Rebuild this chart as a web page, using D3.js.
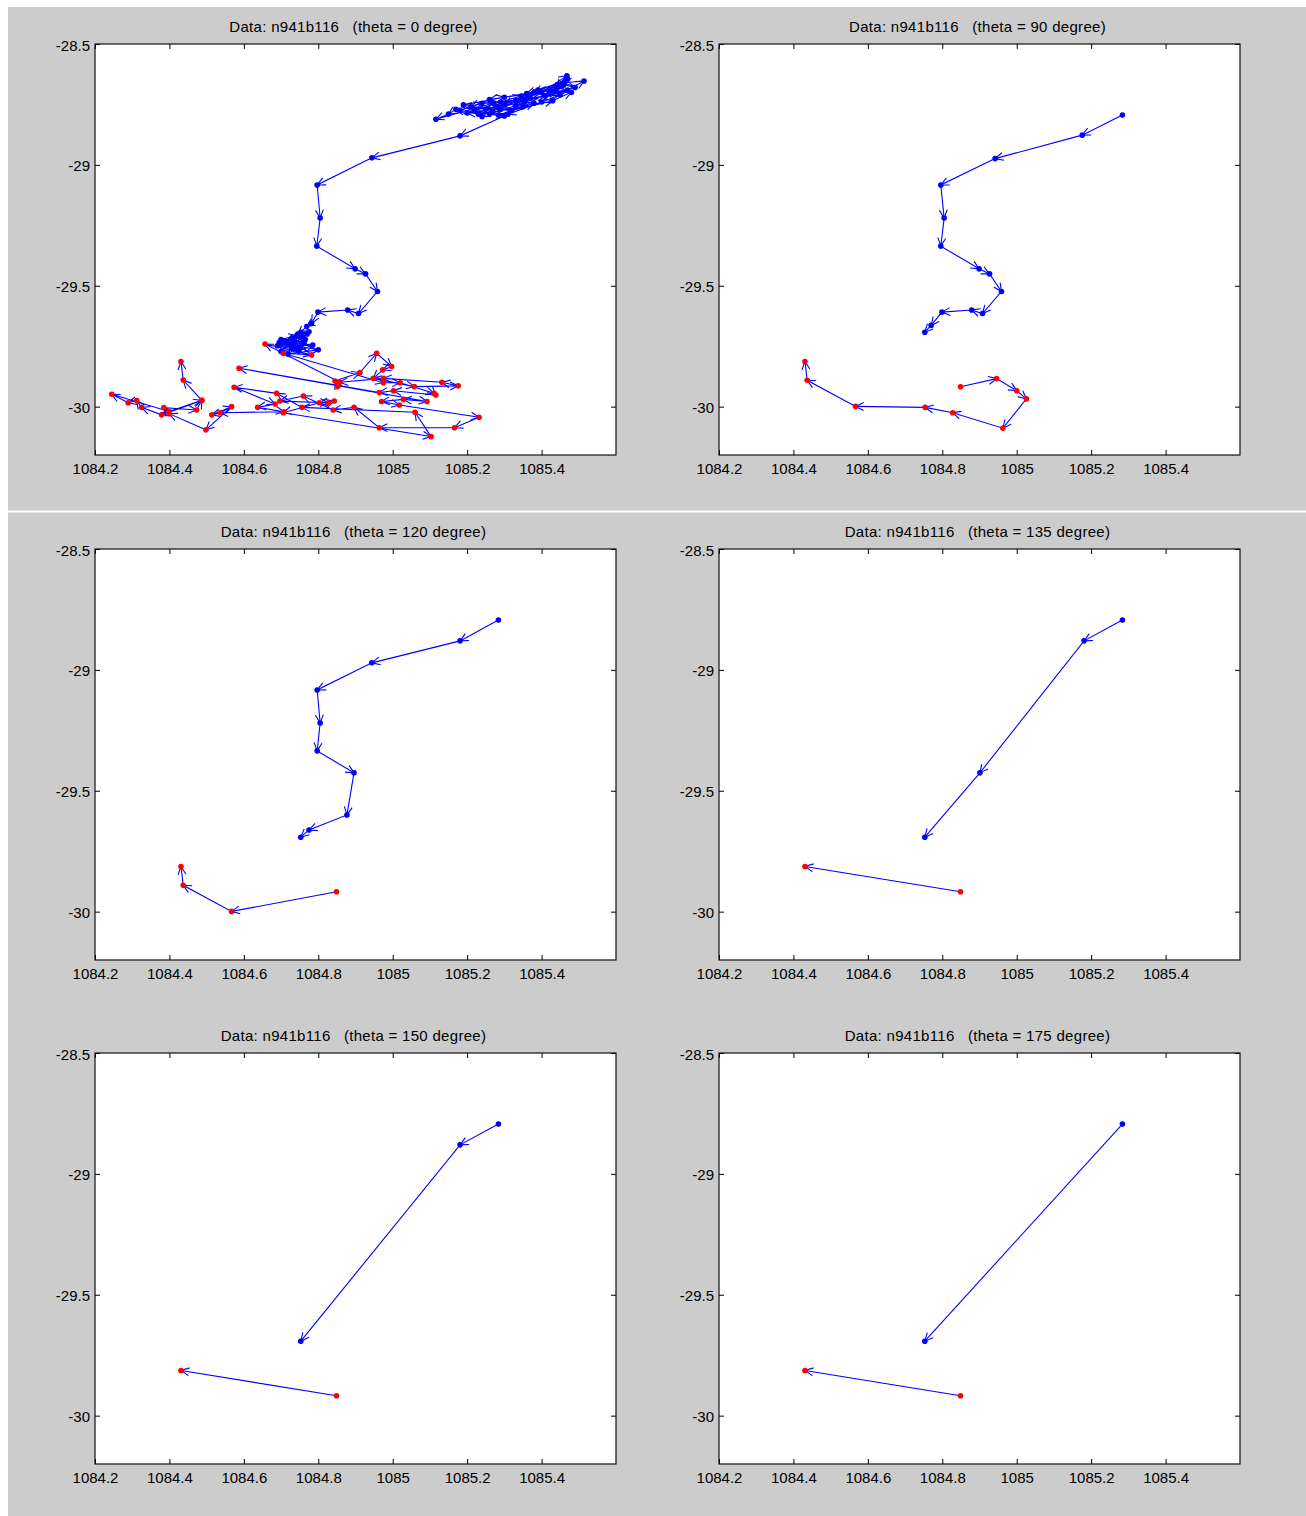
<!DOCTYPE html>
<html><head><meta charset="utf-8">
<script src="https://cdn.jsdelivr.net/npm/d3@7"></script>
<style>
body{margin:0;background:#fff;}
svg text{font-family:"Liberation Sans",Arial,Helvetica,sans-serif;fill:#000;}
</style>
</head><body>
<svg id="chart" width="1306" height="1516"></svg>
<script>
// ---------------- data ----------------
const datasetName = "n941b116";
const thetas = [0, 90, 120, 135, 150, 175];
const xTicks = [1084.2, 1084.4, 1084.6, 1084.8, 1085, 1085.2, 1085.4];
const yTicks = [-28.5, -29, -29.5, -30];
const xDomain = [1084.2, 1085.6];
const yDomain = [-30.2, -28.5];

// theta = 0 : full tracks
const blueTheta0 = [
 [1085.284,-28.794],[1085.380,-28.745],[1085.330,-28.735],[1085.455,-28.675],[1085.420,-28.690],
 [1085.250,-28.770],[1085.190,-28.752],[1085.300,-28.720],[1085.400,-28.700],[1085.468,-28.632],
 [1085.440,-28.680],[1085.350,-28.760],[1085.230,-28.790],[1085.170,-28.770],[1085.150,-28.790],
 [1085.116,-28.811],[1085.270,-28.745],[1085.410,-28.715],[1085.470,-28.690],[1085.514,-28.653],
 [1085.460,-28.660],[1085.360,-28.705],[1085.260,-28.730],[1085.210,-28.760],[1085.320,-28.775],
 [1085.430,-28.735],[1085.480,-28.700],[1085.390,-28.690],[1085.300,-28.750],[1085.240,-28.800],
 [1085.280,-28.760],[1085.370,-28.725],[1085.450,-28.710],[1085.400,-28.740],[1085.310,-28.790],
 [1085.200,-28.785],[1085.290,-28.740],[1085.345,-28.715],[1085.460,-28.668],[1085.490,-28.680],
 [1085.420,-28.705],[1085.330,-28.755],[1085.260,-28.790],[1085.180,-28.775],[1085.240,-28.745],
 [1085.355,-28.740],[1085.440,-28.695],[1085.470,-28.645],[1085.380,-28.700],[1085.290,-28.770],
 [1085.220,-28.775],[1085.300,-28.798],[1085.181,-28.880],
 [1084.944,-28.971],[1084.797,-29.083],[1084.805,-29.220],[1084.796,-29.336],[1084.899,-29.430],
 [1084.927,-29.451],[1084.959,-29.524],[1084.908,-29.615],[1084.879,-29.600],[1084.799,-29.609],
 [1084.782,-29.655],[1084.769,-29.669],[1084.745,-29.700],[1084.765,-29.722],[1084.722,-29.742],
 [1084.700,-29.722],[1084.742,-29.706],[1084.775,-29.690],[1084.735,-29.762],[1084.690,-29.748],
 [1084.762,-29.738],[1084.718,-29.782],[1084.800,-29.765],[1084.752,-29.752],[1084.700,-29.772],
 [1084.730,-29.715],[1084.770,-29.700],[1084.712,-29.730],[1084.748,-29.770],[1084.785,-29.745],
 [1084.728,-29.752],[1084.695,-29.735],[1084.758,-29.712],[1084.736,-29.735],[1084.753,-29.692]
];
const redTheta0 = [
 [1084.852,-29.917],[1084.845,-29.894],[1084.912,-29.859],[1084.957,-29.779],[1084.997,-29.834],
 [1084.973,-29.848],[1084.948,-29.883],[1085.058,-29.917],[1085.176,-29.914],[1085.132,-29.899],
 [1084.975,-29.883],[1084.858,-29.899],[1084.657,-29.741],[1084.782,-29.786],[1084.706,-29.779],
 [1084.975,-29.901],[1085.020,-29.901],[1085.111,-29.945],[1085.116,-29.952],[1085.002,-29.934],
 [1084.964,-29.942],[1084.587,-29.841],[1085.092,-29.979],[1085.029,-29.970],[1084.970,-29.979],
 [1085.018,-29.993],[1085.232,-30.044],[1085.166,-30.087],[1084.964,-30.087],[1084.896,-30.003],
 [1084.840,-30.014],[1084.760,-29.956],[1084.697,-29.977],[1084.827,-29.984],[1084.843,-29.977],
 [1084.803,-29.984],[1084.706,-30.025],[1085.103,-30.124],[1085.060,-30.023],[1084.756,-30.003],
 [1084.688,-29.945],[1084.574,-29.920],[1084.684,-29.989],[1084.637,-30.003],[1084.708,-30.021],
 [1084.536,-30.025],[1084.514,-30.034],[1084.567,-30.000],[1084.498,-30.096],[1084.399,-30.029],
 [1084.385,-30.004],[1084.473,-30.014],[1084.487,-29.974],[1084.379,-30.034],[1084.325,-30.003],
 [1084.312,-29.975],[1084.289,-29.984],[1084.245,-29.949],[1084.399,-30.020],[1084.487,-29.974],
 [1084.437,-29.890],[1084.431,-29.813]
];
// theta = 90
const blueTheta90 = [
 [1085.284,-28.794],[1085.176,-28.877],[1084.942,-28.974],[1084.796,-29.083],[1084.805,-29.220],
 [1084.796,-29.336],[1084.899,-29.430],[1084.927,-29.451],[1084.959,-29.524],[1084.908,-29.615],
 [1084.879,-29.600],[1084.799,-29.609],[1084.770,-29.664],[1084.753,-29.692]
];
const redTheta90 = [
 [1084.849,-29.918],[1084.946,-29.884],[1085.000,-29.934],[1085.026,-29.968],[1084.963,-30.089],
 [1084.828,-30.025],[1084.754,-30.003],[1084.567,-29.999],[1084.437,-29.891],[1084.431,-29.813]
];
// theta = 120
const blueTheta120 = [
 [1085.284,-28.794],[1085.181,-28.880],[1084.944,-28.971],[1084.797,-29.083],[1084.805,-29.220],
 [1084.797,-29.335],[1084.896,-29.426],[1084.877,-29.600],[1084.775,-29.662],[1084.753,-29.692]
];
const redTheta120 = [[1084.849,-29.918],[1084.567,-29.999],[1084.437,-29.891],[1084.431,-29.813]];
// theta = 135
const blueTheta135 = [[1085.284,-28.794],[1085.181,-28.880],[1084.901,-29.426],[1084.753,-29.692]];
const redTheta135 = [[1084.849,-29.918],[1084.431,-29.813]];
// theta = 150
const blueTheta150 = [[1085.284,-28.794],[1085.181,-28.880],[1084.753,-29.692]];
const redTheta150 = [[1084.849,-29.918],[1084.431,-29.813]];
// theta = 175
const blueTheta175 = [[1085.284,-28.794],[1084.753,-29.692]];
const redTheta175 = [[1084.849,-29.918],[1084.431,-29.813]];

const blueTracks = [blueTheta0, blueTheta90, blueTheta120, blueTheta135, blueTheta150, blueTheta175];
const redTracks  = [redTheta0, redTheta90, redTheta120, redTheta135, redTheta150, redTheta175];

// ---------------- layout ----------------
const colLeft = [95, 719];
const rowTop = [44, 549, 1053];
const plotW = 521, plotH = 411;

const svg = d3.select("#chart");
svg.append("rect").attr("x",0).attr("y",0).attr("width",1306).attr("height",1516).attr("fill","#cccccc");
svg.append("rect").attr("x",0).attr("y",0).attr("width",1306).attr("height",7).attr("fill","#ffffff");
svg.append("rect").attr("x",0).attr("y",0).attr("width",8).attr("height",1516).attr("fill","#ffffff");
svg.append("rect").attr("x",0).attr("y",510.5).attr("width",1306).attr("height",2).attr("fill","#ffffff");

const lineColor = "#0000ff";

function arrowHead(p0, p1) {
  const a = Math.atan2(p1[1]-p0[1], p1[0]-p0[0]);
  const L = 9, w = 0.45;
  const b1 = [p1[0] - L*Math.cos(a - w), p1[1] - L*Math.sin(a - w)];
  const b2 = [p1[0] - L*Math.cos(a + w), p1[1] - L*Math.sin(a + w)];
  return `M${b1[0]},${b1[1]}L${p1[0]},${p1[1]}L${b2[0]},${b2[1]}`;
}

thetas.forEach((theta, i) => {
  const left = colLeft[i % 2], top = rowTop[Math.floor(i / 2)];
  const x = d3.scaleLinear().domain(xDomain).range([0, plotW]);
  const y = d3.scaleLinear().domain(yDomain).range([plotH, 0]);
  const g = svg.append("g").attr("transform", `translate(${left},${top})`);

  g.append("rect").attr("width", plotW).attr("height", plotH).attr("fill", "#ffffff");

  g.append("text")
    .attr("x", plotW/2 - 2).attr("y", -12)
    .attr("text-anchor", "middle")
    .style("font-size", "15px").style("white-space", "pre").style("letter-spacing", "0.3px")
    .text(`Data: ${datasetName}   (theta = ${theta} degree)`);

  const fmt = v => String(v);
  const axB = g.append("g").attr("transform", `translate(0,${plotH})`)
    .call(d3.axisBottom(x).tickValues(xTicks).tickFormat(fmt).tickSize(-5).tickSizeOuter(0).tickPadding(8));
  const axL = g.append("g")
    .call(d3.axisLeft(y).tickValues(yTicks).tickFormat(fmt).tickSize(-5).tickSizeOuter(0).tickPadding(5));
  const axT = g.append("g")
    .call(d3.axisTop(x).tickValues(xTicks).tickFormat("").tickSize(-5).tickSizeOuter(0));
  const axR = g.append("g").attr("transform", `translate(${plotW},0)`)
    .call(d3.axisRight(y).tickValues(yTicks).tickFormat("").tickSize(-5).tickSizeOuter(0));
  [axB, axL, axT, axR].forEach(a => {
    a.select(".domain").remove();
    a.selectAll("line").attr("stroke", "#000");
    a.selectAll("text").attr("font-family", null).style("font-size", "15px").attr("fill", "#000");
  });
  axL.selectAll("text").attr("dy", "0.4em");

  const line = d3.line().x(d => x(d[0])).y(d => y(d[1]));
  [[blueTracks[i], "#0000ff"], [redTracks[i], "#ff0000"]].forEach(([track, mcol]) => {
    g.append("path").datum(track).attr("d", line)
      .attr("fill", "none").attr("stroke", lineColor).attr("stroke-width", 1.1);
    g.append("g").selectAll("path").data(track.slice(1)).join("path")
      .attr("d", (d, k) => arrowHead([x(track[k][0]), y(track[k][1])], [x(d[0]), y(d[1])]))
      .attr("fill", "none").attr("stroke", lineColor).attr("stroke-width", 1.1);
    g.append("g").selectAll("circle").data(track).join("circle")
      .attr("cx", d => x(d[0])).attr("cy", d => y(d[1])).attr("r", 2.8)
      .attr("fill", mcol);
  });

  g.append("rect").attr("width", plotW).attr("height", plotH)
    .attr("fill", "none").attr("stroke", "#111").attr("stroke-width", 1.2);
});
</script>
</body></html>
